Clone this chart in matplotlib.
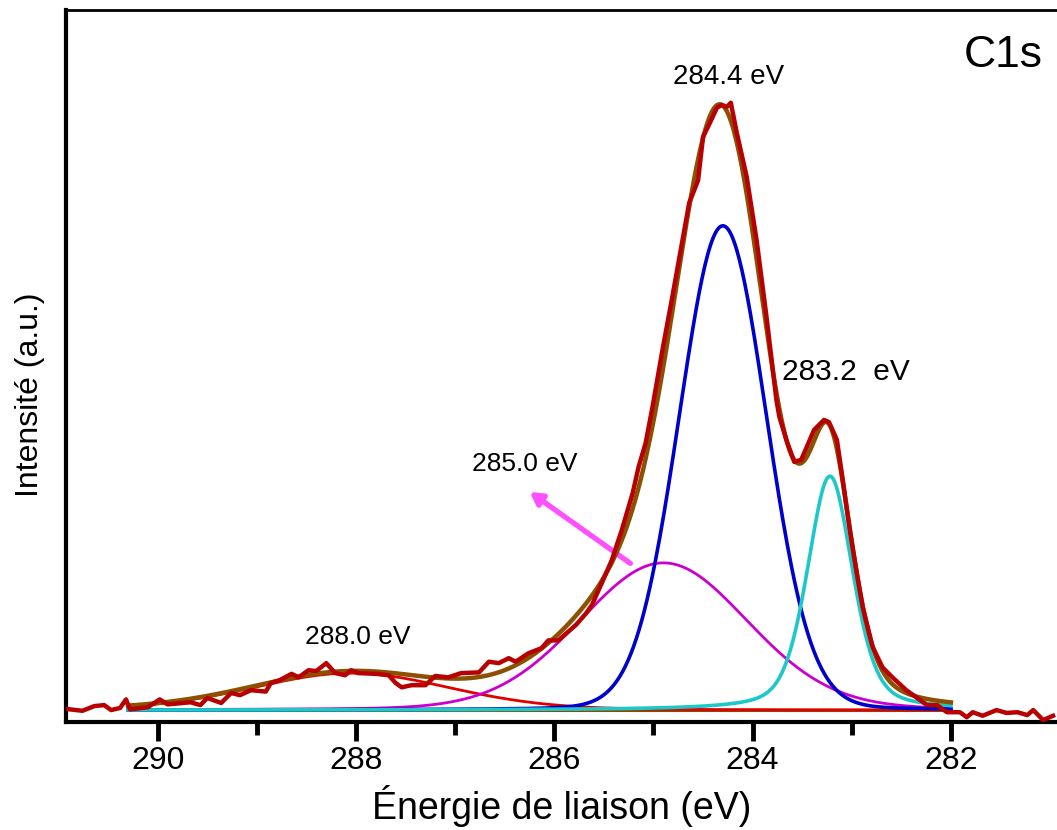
import numpy as np
import matplotlib
matplotlib.use("Agg")
import matplotlib.pyplot as plt

plt.rcParams['font.family'] = ['Liberation Sans', 'DejaVu Sans']

energie = [291.0, 290.91, 290.76, 290.64, 290.54, 290.47, 290.38, 290.32, 290.28,
           290.10, 289.98, 289.90, 289.67, 289.57, 289.50, 289.36, 289.26, 289.17,
           289.06, 288.91, 288.86, 288.77, 288.65, 288.58, 288.48, 288.40, 288.30,
           288.21, 288.11, 288.05, 287.98, 287.80, 287.67, 287.60, 287.54, 287.44,
           287.30, 287.20, 287.07, 286.94, 286.76, 286.66, 286.56, 286.46, 286.39,
           286.26, 286.13, 286.06, 285.96, 285.78, 285.68, 285.62, 285.52, 285.42,
           285.32, 285.21, 285.15, 285.08, 285.01, 284.91, 284.81, 284.72, 284.64,
           284.55, 284.50, 284.43, 284.36, 284.31, 284.26, 284.22, 284.16, 284.06,
           283.96, 283.86, 283.76, 283.73, 283.65, 283.58, 283.51, 283.46, 283.38,
           283.28, 283.23, 283.15, 283.09, 283.02, 282.95, 282.89, 282.79, 282.69,
           282.59, 282.45, 282.35, 282.24, 282.14, 282.04, 281.91, 281.84, 281.78,
           281.68, 281.54, 281.44, 281.33, 281.23, 281.17, 281.07, 280.97]
intensite = [0.1, 0.14, -0.1, 0.56, 0.7, 0.0, 0.3, 1.5, 0.1,
             0.4, 1.5, 0.8, 1.1, 0.7, 1.7, 1.0, 2.4, 2.1,
             2.8, 2.6, 3.8, 4.2, 5.1, 4.6, 5.6, 5.5, 6.6,
             5.2, 4.9, 5.6, 5.2, 5.1, 4.9, 3.8, 3.2, 3.5,
             3.5, 4.8, 4.6, 5.2, 5.3, 6.8, 6.6, 7.3, 6.8,
             8.0, 8.7, 9.8, 9.8, 12.0, 13.6, 14.8, 17.9, 21.1,
             25.3, 30.5, 34.2, 37.5, 42.6, 50.6, 58.1, 65.1, 71.3,
             74.5, 80.6, 82.6, 84.7, 85.1, 84.8, 85.4, 81.2, 75.0,
             66.1, 55.3, 43.6, 41.2, 37.6, 34.9, 35.2, 36.8, 39.4,
             40.8, 40.5, 38.0, 32.3, 25.3, 19.3, 14.5, 8.9, 6.0,
             4.6, 2.8, 1.8, 0.7, 0.7, -0.3, -0.3, -1.0, -0.3,
             -0.8, 0.0, -0.4, -0.3, -0.7, 0.0, -1.4, -0.8]

# composantes de l'ajustement (pseudo-Voigt)
centres = [288.05, 284.9, 284.3, 283.22]
hauteurs = [5.2, 20.7, 68.1, 32.9]
largeurs = [2.35, 2.0, 1.04, 0.54]
eta = [0.15, 0.1, 0.05, 0.4]
couleurs = ['#e00000', '#cc00cc', '#0000cc', '#1ec8c8']
epaisseurs = [2.0, 2.0, 2.6, 2.6]

e_fit = np.linspace(290.3, 282.0, 600)


def pseudo_voigt(x, c, h, w, m):
    u = (x - c) / (w / 2)
    g = np.exp(-np.log(2) * u ** 2)
    l = 1 / (1 + u ** 2)
    return h * (m * l + (1 - m) * g)


fig = plt.figure(figsize=(10.57, 8.3), dpi=100)
ax = fig.add_axes([0.062, 0.130, 0.938, 0.858])

ax.plot(e_fit, np.zeros_like(e_fit), color='#8b4a00', lw=2.2, zorder=2)
somme = np.zeros_like(e_fit)
for c, h, w, m, col, lw in zip(centres, hauteurs, largeurs, eta, couleurs, epaisseurs):
    y = pseudo_voigt(e_fit, c, h, w, m)
    somme += y
    ax.plot(e_fit, y, color=col, lw=lw, zorder=3)
ax.plot(e_fit, somme, color='#8b5000', lw=3.2, zorder=4)
ax.plot(energie, intensite, color='#b80000', lw=3.2, zorder=5)

ax.set_xlim(290.93, 280.93)
ax.set_ylim(-1.69, 98.45)

ax.set_xticks([290, 288, 286, 284, 282])
ax.set_xticks([289, 287, 285, 283], minor=True)
ax.tick_params(axis='x', which='major', direction='out', length=14, width=3.5,
               labelsize=23, pad=3)
ax.tick_params(axis='x', which='minor', direction='out', length=9, width=3.5)
ax.set_yticks([])

ax.spines['right'].set_visible(False)
ax.spines['left'].set_linewidth(3)
ax.spines['bottom'].set_linewidth(3)
ax.spines['top'].set_linewidth(2)

ax.set_xlabel('Énergie de liaison (eV)', fontsize=27, labelpad=7)
ax.set_ylabel('Intensité (a.u.)', fontsize=23)
ax.yaxis.set_label_coords(-0.021, 0.46)

ax.text(284.24, 89.0, '284.4 eV', fontsize=20, ha='center', va='center')
ax.text(283.06, 47.5, '283.2  eV', fontsize=21.5, ha='center', va='center')
ax.text(286.30, 34.6, '285.0 eV', fontsize=19, ha='center', va='center')
ax.text(287.98, 10.3, '288.0 eV', fontsize=19, ha='center', va='center')
ax.text(281.47, 92.1, 'C1s', fontsize=32, ha='center', va='center')

ax.annotate('', xy=(286.27, 30.9), xytext=(285.21, 20.4),
            arrowprops=dict(arrowstyle='-|>,head_length=0.7,head_width=0.4',
                            color='#ff50ff', lw=3.8))

fig.savefig('out.png', dpi=100)
